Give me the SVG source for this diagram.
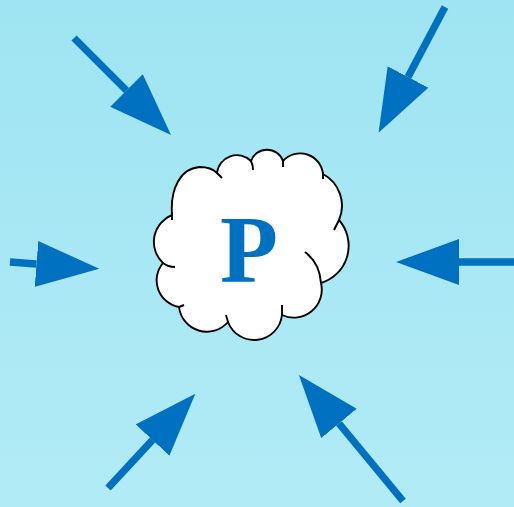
<svg xmlns="http://www.w3.org/2000/svg" width="514" height="507" viewBox="0 0 514 507">
<defs>
<linearGradient id="bg" x1="0" y1="0" x2="0" y2="1">
<stop offset="0" stop-color="#9fe4f2"/>
<stop offset="1" stop-color="#b1ebf6"/>
</linearGradient>
<marker id="head" markerUnits="userSpaceOnUse" markerWidth="64" markerHeight="47" refX="0" refY="23" orient="auto" viewBox="0 0 64 46">
<path d="M0,0 L63,23 L0,46 z" fill="#0070c0"/>
</marker>
</defs>
<style>
.arrow{stroke:#0070c0;stroke-width:7.3;fill:none;marker-end:url(#head)}
.cloud{fill:#ffffff;stroke:#000000;stroke-width:1.9;stroke-linejoin:round}
.tail{fill:none;stroke:#000000;stroke-width:1.9}
.label{font-family:"Liberation Serif","Times New Roman",serif;font-weight:bold;font-size:95px;fill:#0070c0}
</style>
<rect width="514" height="507" fill="url(#bg)"/>
<g id="connectors">
<line class="arrow" x1="74" y1="38" x2="126.5" y2="90.5"/>
<line class="arrow" x1="445" y1="7" x2="408" y2="77"/>
<line class="arrow" x1="10" y1="262" x2="36.5" y2="264"/>
<line class="arrow" x1="514" y1="262" x2="459" y2="262"/>
<line class="arrow" x1="108" y1="488" x2="152.5" y2="440"/>
<line class="arrow" x1="403" y1="501" x2="339" y2="423.5"/>
</g>
<g id="node-p">
<path class="cloud" d="M172,215 C170,188 181,168 200,167 C208,167 213,169 217,173 A20,20 0 0 1 251,161 A17,17 0 0 1 283,161 A23,23 0 0 1 323,174 A36,36 0 0 1 339,220 A39,39 0 0 1 321,283 A28,28 0 0 1 282,315 A28,28 0 0 1 228,322 A28,28 0 0 1 179,307 A27,27 0 0 1 163,263 A29,29 0 0 1 172,215 Z"/>
<path class="tail" d="M172,212 L172,220"/>
<path class="tail" d="M216,172 L222,178"/>
<path class="tail" d="M251,161 Q253,165 253,170"/>
<path class="tail" d="M283,160 L283,167"/>
<path class="tail" d="M323,172 L323,179"/>
<path class="tail" d="M339,220 L334,230"/>
<path class="tail" d="M305,252 C313,258 320,268 321,283"/>
<path class="tail" d="M282,305 L282,316"/>
<path class="tail" d="M226,315 L228,322"/>
<path class="tail" d="M179,307 L184,305"/>
<path class="tail" d="M163,263 Q168,267 175,267"/>
<text class="label" x="249" y="282" text-anchor="middle">P</text>
</g>
</svg>
